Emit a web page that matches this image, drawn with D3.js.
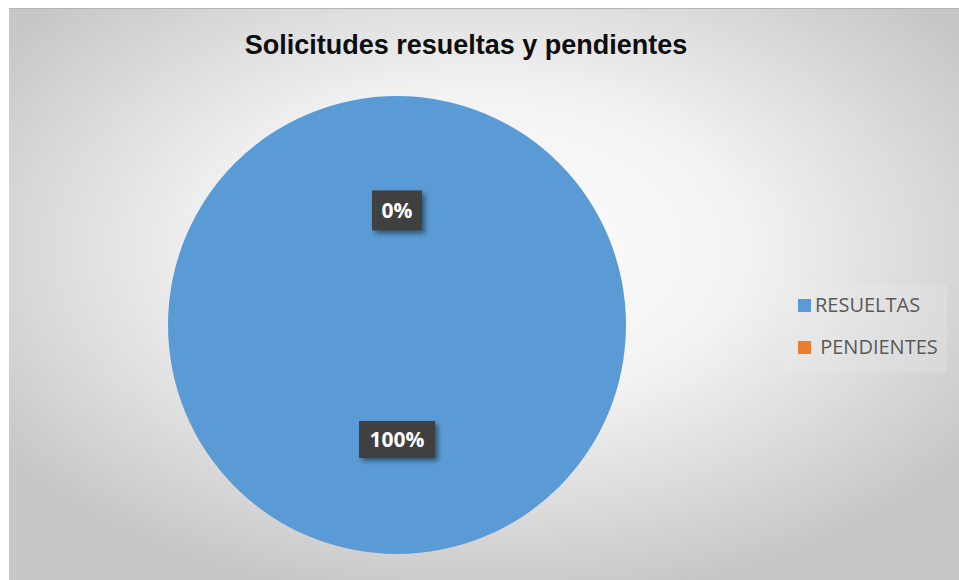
<!DOCTYPE html>
<html>
<head>
<meta charset="utf-8">
<script src="https://cdn.jsdelivr.net/npm/d3@7"></script>
<style>
body{margin:0;padding:0;background:#fff;}
</style>
</head>
<body>
<div class="graph"></div>
<script>
var categories = ["RESUELTAS", " PENDIENTES"];
var values = [100, 0];
var labels = ["100%", "0%"];
var colours = ["#5b9bd5", "#ed7d31"];
var title = "Solicitudes resueltas y pendientes";

var width = 959, height = 580;

var svg = d3.select(".graph").append("svg").attr("width", width).attr("height", height);
var defs = svg.append("defs");

// background gradient
var bg = defs.append("radialGradient").attr("id", "bg")
	.attr("cx", "50%").attr("cy", "42%").attr("r", "62%");
bg.append("stop").attr("offset", "0%").attr("stop-color", "#ffffff");
bg.append("stop").attr("offset", "45%").attr("stop-color", "#f2f2f2");
bg.append("stop").attr("offset", "100%").attr("stop-color", "#c7c7c7");

var sh = defs.append("filter").attr("id", "shadow").attr("x", "-20%").attr("y", "-20%").attr("width", "150%").attr("height", "160%");
sh.append("feDropShadow").attr("dx", 3).attr("dy", 3).attr("stdDeviation", 2.5).attr("flood-color", "#000").attr("flood-opacity", 0.45);

svg.append("rect").attr("x", 9).attr("y", 8).attr("width", width - 9).attr("height", height - 8)
	.style("fill", "url(#bg)");
svg.append("line").attr("x1", 9).attr("x2", width).attr("y1", 8.5).attr("y2", 8.5)
	.style("stroke", "#b5b5b5").style("stroke-width", 1);

svg.append("text").attr("x", 466).attr("y", 54).attr("text-anchor", "middle")
	.style("font-family", "Liberation Sans, Arial, sans-serif").style("font-weight", "bold")
	.style("font-size", "27px").style("fill", "#0d0d0d").text(title);

var cx = 397, cy = 325, r = 229;

var pie = d3.pie().sort(null).value(function (d) { return d; });
var arcs = pie(values);
var arc = d3.arc().innerRadius(0).outerRadius(r);

var g = svg.append("g").attr("transform", "translate(" + cx + "," + cy + ")");

g.selectAll("path.slice").data(arcs).enter().append("path")
	.attr("class", "slice")
	.attr("d", arc)
	.style("fill", function (d, i) { return colours[i]; });

// labels
var lab = g.selectAll("g.lab").data(arcs).enter().append("g").attr("class", "lab")
	.attr("transform", function (d) {
		var c = arc.centroid(d);
		return "translate(" + c[0] + "," + c[1] + ")";
	});

lab.each(function (d, i) {
	var gg = d3.select(this);
	var w = labels[i].length > 2 ? 76 : 50;
	var h = labels[i].length > 2 ? 37 : 40;
	gg.append("rect").attr("x", -w / 2).attr("y", -h / 2).attr("width", w).attr("height", h)
		.style("fill", "#3f3f3f").attr("filter", "url(#shadow)");
	gg.append("text").attr("text-anchor", "middle").attr("dy", "0.36em")
		.style("font-family", "Open Sans, Liberation Sans, sans-serif").style("font-weight", "bold")
		.style("font-size", "21px").style("fill", "#ffffff").text(labels[i]);
});

// legend
var legend = svg.append("g").attr("transform", "translate(785,285)");
legend.append("rect").attr("width", 162).attr("height", 88).style("fill", "#f0f0f0").style("opacity", 0.2);
var items = legend.selectAll("g.item").data(categories).enter().append("g").attr("class", "item")
	.attr("transform", function (d, i) { return "translate(0," + (i * 42) + ")"; });
items.append("rect").attr("x", 13).attr("y", 14).attr("width", 13).attr("height", 13)
	.style("fill", function (d, i) { return colours[i]; });
items.append("text").attr("x", 30).attr("y", 27).attr("xml:space", "preserve")
	.style("font-family", "Open Sans, sans-serif")
	.style("font-size", "20px").style("fill", "#595959").text(function (d) { return d; });
</script>
</body>
</html>
